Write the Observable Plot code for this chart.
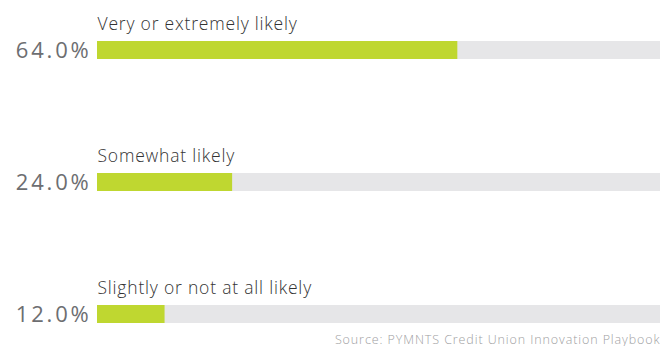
<!DOCTYPE html>
<html>
<head>
<meta charset="utf-8">
<script src="https://cdn.jsdelivr.net/npm/d3@7"></script>
<script src="https://cdn.jsdelivr.net/npm/@observablehq/plot@0.6"></script>
<style>
  html, body { margin: 0; padding: 0; background: #fff; }
  #chart svg { display: block; }
</style>
</head>
<body>
<div id="chart"></div>
<script>
const categories = ["Very or extremely likely", "Somewhat likely", "Slightly or not at all likely"];
const values = [64.0, 24.0, 12.0];
const source = "Source: PYMNTS Credit Union Innovation Playbook";

const data = categories.map((c, i) => ({category: c, value: values[i]}));
const font = "'Open Sans', sans-serif";

const chart = Plot.plot({
  width: 663,
  height: 346,
  marginLeft: 97,
  marginRight: 3,
  marginTop: 0,
  marginBottom: 0,
  style: {fontFamily: font, background: "#fff"},
  x: {domain: [0, 100], axis: null},
  y: {type: "band", domain: categories, range: [40, 323.5], paddingInner: 0.864, paddingOuter: 0, axis: null},
  marks: [
    Plot.barX(data, {y: "category", x1: 0, x2: 100, fill: "#e6e6e8"}),
    Plot.barX(data, {y: "category", x1: 0, x2: "value", fill: "#bfd730"}),
    Plot.text(data, {y: "category", x: 0, text: d => d.value.toFixed(1) + "%", textAnchor: "end", dx: -6, dy: 0, fontSize: 22, fill: "#6d6e71", fontWeight: 400}),
    Plot.text(data, {y: "category", x: 0, text: "category", textAnchor: "start", dy: -26, fontSize: 17.5, fill: "#333", fontWeight: 300}),
    Plot.text([source], {frameAnchor: "bottom-right", text: d => d, dy: -3, fontSize: 12.5, fill: "#a0a0a2", fontWeight: 300})
  ]
});
const spacing = ["2.8px", "0.8px", "0.9px"];
d3.select(chart).selectAll("g[aria-label=text]").each(function(_, i) {
  d3.select(this).attr("letter-spacing", spacing[i]).style("letter-spacing", spacing[i]);
});
document.getElementById("chart").appendChild(chart);
</script>
</body>
</html>
